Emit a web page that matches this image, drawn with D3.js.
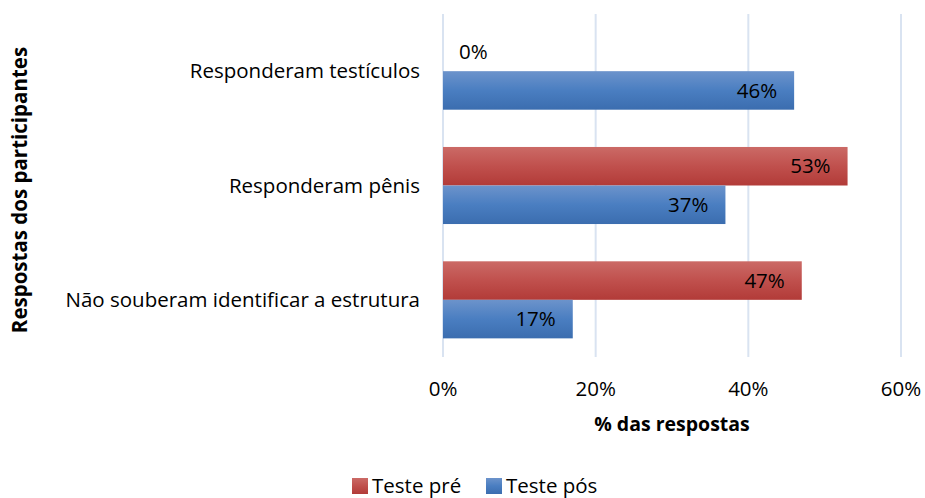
<!DOCTYPE html>
<html>
<head>
<meta charset="utf-8">
<script src="https://cdn.jsdelivr.net/npm/d3@7"></script>
<style>
	body { margin: 0; background: #fff; }
	text { font-family: "Open Sans", Lato, sans-serif; fill: #000; }
</style>
</head>
<body>
<div id="chart"></div>
<script>
var categories = ["Responderam testículos", "Responderam pênis", "Não souberam identificar a estrutura"];
var seriesNames = ["Teste pré", "Teste pós"];
var preValues = [0, 53, 47];
var posValues = [46, 37, 17];
var xTicks = [0, 20, 40, 60];

var chartW = 925, chartH = 498;
var plotLeft = 443, plotRight = 901, plotTop = 14, plotBottom = 357;
var fontSize = "20.5px";

var svg = d3.select("#chart").append("svg")
	.attr("width", chartW)
	.attr("height", chartH);

var defs = svg.append("defs");
function gradient(id, stops) {
	var g = defs.append("linearGradient").attr("id", id)
		.attr("x1", 0).attr("y1", 0).attr("x2", 0).attr("y2", 1);
	stops.forEach(function(s) {
		g.append("stop").attr("offset", s[0]).attr("stop-color", s[1]);
	});
}
gradient("gradPre", [[0, "#cb6a66"], [0.5, "#c0504d"], [1, "#b23b38"]]);
gradient("gradPos", [[0, "#6c93cb"], [0.5, "#4a7ec1"], [1, "#3b6daf"]]);

var x = d3.scaleLinear().domain([0, 60]).range([plotLeft, plotRight]);
var y = d3.scaleBand().domain(categories).range([plotTop, plotBottom])
	.paddingInner(0.326).paddingOuter(0.163);
var sub = d3.scaleBand().domain(seriesNames).range([0, y.bandwidth()]);

// grid
svg.append("g").selectAll("line")
	.data(xTicks)
	.join("line")
	.attr("x1", function(d) { return x(d); })
	.attr("x2", function(d) { return x(d); })
	.attr("y1", plotTop)
	.attr("y2", plotBottom)
	.attr("stroke", "#d9e3f1")
	.attr("stroke-width", 2);

// x tick labels
svg.append("g").selectAll("text")
	.data(xTicks)
	.join("text")
	.attr("x", function(d) { return x(d); })
	.attr("y", 396)
	.attr("text-anchor", "middle")
	.style("font-size", fontSize)
	.text(function(d) { return d + "%"; });

// category labels
svg.append("g").selectAll("text")
	.data(categories)
	.join("text")
	.attr("x", 420)
	.attr("y", function(d) { return y(d) + y.bandwidth() / 2; })
	.attr("dy", "0.35em")
	.attr("text-anchor", "end")
	.style("font-size", fontSize)
	.text(function(d) { return d; });

var rows = categories.map(function(c, i) {
	return [
		{cat: c, series: seriesNames[0], value: preValues[i], fill: "url(#gradPre)"},
		{cat: c, series: seriesNames[1], value: posValues[i], fill: "url(#gradPos)"}
	];
}).flat();

svg.append("g").selectAll("rect")
	.data(rows)
	.join("rect")
	.attr("x", x(0))
	.attr("y", function(d) { return y(d.cat) + sub(d.series); })
	.attr("width", function(d) { return x(d.value) - x(0); })
	.attr("height", sub.bandwidth())
	.attr("fill", function(d) { return d.fill; });

// data labels
svg.append("g").selectAll("text")
	.data(rows)
	.join("text")
	.attr("x", function(d) { return d.value === 0 ? x(0) + 16 : x(d.value) - 17; })
	.attr("y", function(d) { return y(d.cat) + sub(d.series) + sub.bandwidth() / 2; })
	.attr("dy", "0.35em")
	.attr("text-anchor", function(d) { return d.value === 0 ? "start" : "end"; })
	.style("font-size", fontSize)
	.text(function(d) { return d.value + "%"; });

// axis titles
svg.append("text")
	.attr("x", (plotLeft + plotRight) / 2)
	.attr("y", 431)
	.attr("text-anchor", "middle")
	.style("font-size", "19.5px")
	.style("font-weight", "bold")
	.text("% das respostas");

svg.append("text")
	.attr("transform", "translate(27,190) rotate(-90)")
	.attr("text-anchor", "middle")
	.style("font-size", "20.5px")
	.style("font-weight", "bold")
	.text("Respostas dos participantes");

// legend
var legend = svg.append("g").attr("transform", "translate(352,478)");
var legendItems = [
	{name: seriesNames[0], fill: "url(#gradPre)", dx: 0},
	{name: seriesNames[1], fill: "url(#gradPos)", dx: 134}
];
legendItems.forEach(function(it) {
	legend.append("rect")
		.attr("x", it.dx).attr("y", 0)
		.attr("width", 16).attr("height", 16)
		.attr("fill", it.fill);
	legend.append("text")
		.attr("x", it.dx + 20).attr("y", 8)
		.attr("dy", "0.35em")
		.style("font-size", fontSize)
		.text(it.name);
});
</script>
</body>
</html>
